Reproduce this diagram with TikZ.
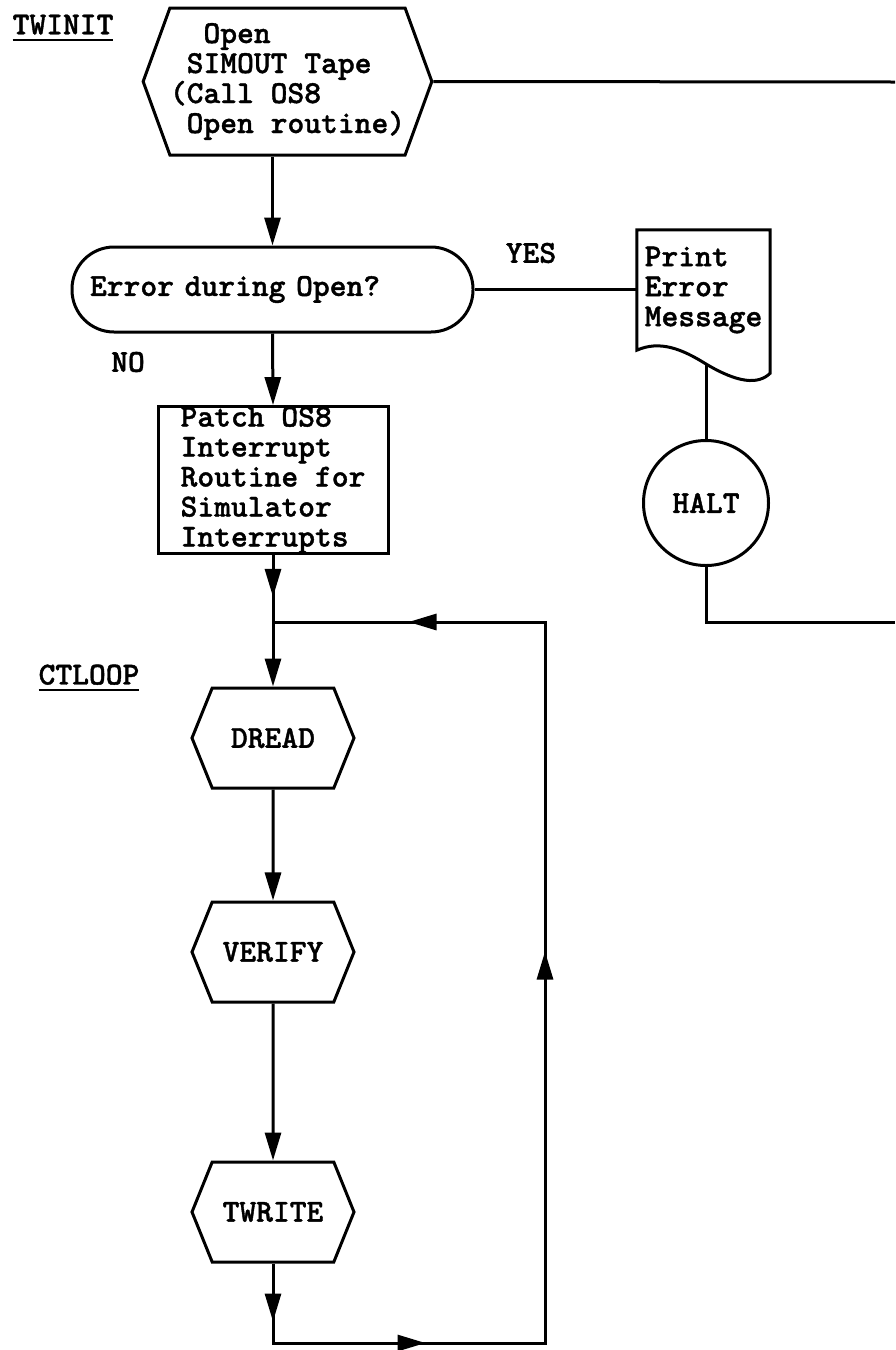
\documentclass[tikz,border=0pt]{standalone}
\usepackage{fontspec}
\usetikzlibrary{arrows.meta,positioning,shapes.symbols,decorations.markings}
\newfontfamily\typerfam{lmmonolt10-bold.otf}[FakeBold=1.2]
\newcommand{\twfont}{\typerfam\fontsize{32}{30}\selectfont}
\newsavebox{\ulbox}
\newcommand{\ulabel}[1]{\sbox\ulbox{#1}\rlap{\rule[-7pt]{\wd\ulbox}{2.5pt}}\usebox\ulbox}
\tikzset{
  base/.style={draw=black,line width=3pt,font=\twfont,inner sep=0pt},
  hexa/.style={base,signal,signal to=west and east,signal pointer angle=136,minimum width=162,minimum height=100},
  term/.style={base,rectangle,rounded corners=42pt,minimum width=401,minimum height=85,align=left,text width=365,inner xsep=18pt},
  proc/.style={base,rectangle,minimum width=230,minimum height=146,align=left},
  stopc/.style={base,circle,minimum size=125},
  tag/.style={font=\twfont,inner sep=0pt},
  wire/.style={draw=black,line width=3pt},
  arr/.style={wire,-{Triangle[length=28pt,width=16pt]}},
  marr/.style={postaction={decorate},decoration={markings,mark=at position #1 with {\arrow{Triangle[length=28pt,width=16pt]}}}}
}

\begin{document}
\begin{tikzpicture}[x=1pt,y=-1pt]
  \useasboundingbox (0,0) rectangle (895,1350);

  % labels
  \node[tag] (twinit) at (63,28) {\ulabel{TWINIT}};
  \node[tag] (ctloop) at (89,678) {\ulabel{CTLOOP}};

  % init part
  \node[hexa,signal pointer angle=140,minimum width=279,minimum height=147,align=left] (open) at (287.5,81.5)
    {\ \ Open\\\ SIMOUT Tape\\(Call OS8\\\ Open routine)};
  \node[term] (dec) at (272.5,289.5) {Error during Open?};
  \node[proc] (patch) at (273,480) {Patch OS8\\Interrupt\\Routine for\\Simulator\\Interrupts};

  % error branch
  \node[tag,minimum width=133,minimum height=120,align=left] (doc) at (703.5,290) {Print\\Error\\Message};
  \draw[wire] (doc.south west) -- (doc.north west) -- (doc.north east) -- ([yshift=-23pt]doc.south east)
    .. controls (758,385) and (738,383) .. (706,364)
    .. controls (682,349) and (660,340) .. (doc.south west) -- cycle;
  \coordinate (docw) at (706,364);
  \node[stopc] (halt) at (706,503) {HALT};
  \node[tag] (yes) at (531,253) {YES};
  \node[tag] (no) at (128,362) {NO};

  % loop
  \node[hexa] (dread) at (273,738) {DREAD};
  \node[hexa] (verify) at (273,952) {VERIFY};
  \node[hexa] (twrite) at (273,1212) {TWRITE};

  \coordinate (offtop) at (895,82);
  \coordinate (offbot) at (895,622);
  \coordinate (join) at (273,622);
  \coordinate (botl) at (273,1343);
  \coordinate (botr) at (545,1343);
  \coordinate (topr) at (545,622);

  \draw[wire] (open.east) -- (offtop);
  \draw[arr] (dec.north |- open.south) -- (dec.north);
  \draw[wire] (dec.east) -- (dec.east -| doc.west);
  \draw[arr] (dec.south) -- (patch.north);
  \draw[wire] (docw) -- (halt.north);
  \draw[wire] (halt.south) |- (offbot);

  \draw[arr,marr=42pt] (patch.south) -- (dread.north);
  \draw[arr] (dread) -- (verify);
  \draw[arr] (verify) -- (twrite);
  \draw[wire,postaction={decorate},decoration={markings,
      mark=at position 58pt with {\arrow{Triangle[length=28pt,width=16pt]}},
      mark=at position 232pt with {\arrow{Triangle[length=28pt,width=16pt]}},
      mark=at position 743pt with {\arrow{Triangle[length=28pt,width=16pt]}},
      mark=at position 1209pt with {\arrow{Triangle[length=28pt,width=16pt]}}}]
    (twrite.south) -- (botl) -- (botr) -- (topr) -- (join);
\end{tikzpicture}
\end{document}
